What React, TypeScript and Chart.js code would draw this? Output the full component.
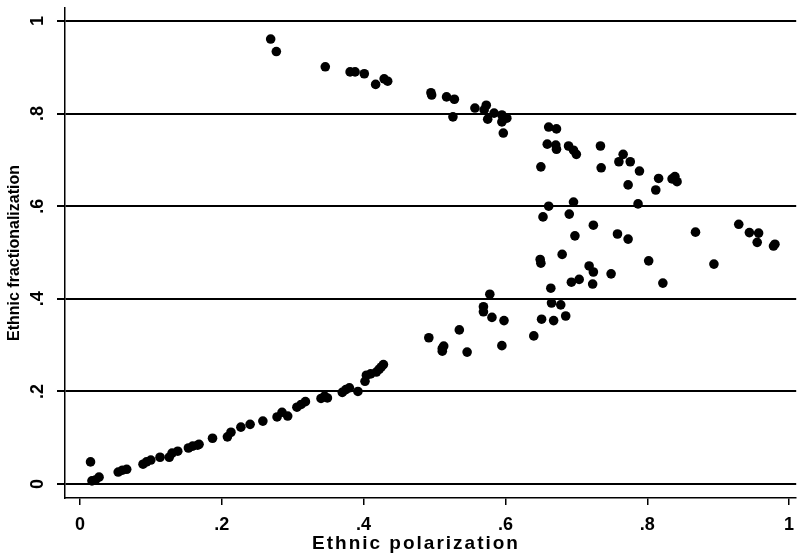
import React, { useEffect, useRef } from "react";
import { Chart, registerables } from "chart.js";

Chart.register(...registerables);

const xTickValues = [0, 0.2, 0.4, 0.6, 0.8, 1];
const xTickLabels = ["0", ".2", ".4", ".6", ".8", "1"];
const yTickValues = [0, 0.2, 0.4, 0.6, 0.8, 1];
const yTickLabels = ["0", ".2", ".4", ".6", ".8", "1"];
const xAxisTitle = "Ethnic polarization";
const yAxisTitle = "Ethnic fractionalization";

// [polarization, fractionalization]
const curvePoints: [number, number][] = [
  [0.015, 0.048], [0.017, 0.007], [0.022, 0.009], [0.027, 0.015], [0.054, 0.026],
  [0.06, 0.03], [0.066, 0.032], [0.089, 0.043], [0.094, 0.048], [0.1, 0.052],
  [0.113, 0.058], [0.126, 0.058], [0.13, 0.067], [0.138, 0.071], [0.153, 0.078],
  [0.159, 0.082], [0.166, 0.084], [0.168, 0.086], [0.187, 0.099], [0.208, 0.102],
  [0.213, 0.112], [0.227, 0.123], [0.24, 0.129], [0.258, 0.136], [0.278, 0.145],
  [0.285, 0.155], [0.293, 0.147], [0.306, 0.166], [0.312, 0.172], [0.318, 0.178],
  [0.34, 0.185], [0.345, 0.19], [0.349, 0.186], [0.37, 0.198], [0.375, 0.204],
  [0.38, 0.208], [0.392, 0.2], [0.402, 0.222], [0.41, 0.238], [0.404, 0.235],
  [0.418, 0.242], [0.422, 0.248], [0.425, 0.253], [0.428, 0.258],
];

const lowerBranchPoints: [number, number][] = [
  [0.492, 0.316], [0.511, 0.293], [0.513, 0.298], [0.511, 0.287], [0.535, 0.333],
  [0.546, 0.285], [0.569, 0.383], [0.569, 0.372], [0.578, 0.41], [0.581, 0.36],
  [0.598, 0.353], [0.595, 0.299], [0.64, 0.32], [0.651, 0.356], [0.668, 0.353],
  [0.685, 0.363], [0.665, 0.391], [0.678, 0.387], [0.664, 0.423], [0.65, 0.477],
  [0.649, 0.485], [0.68, 0.496], [0.693, 0.436], [0.704, 0.442], [0.718, 0.471],
  [0.724, 0.458], [0.723, 0.432], [0.749, 0.454], [0.802, 0.482], [0.822, 0.434],
  [0.894, 0.475], [0.868, 0.544], [0.929, 0.561], [0.944, 0.543], [0.957, 0.542],
  [0.955, 0.522], [0.98, 0.518], [0.978, 0.514], [0.653, 0.577], [0.69, 0.583],
  [0.661, 0.6], [0.696, 0.609], [0.787, 0.605], [0.724, 0.559], [0.698, 0.536],
  [0.758, 0.54], [0.773, 0.529],
];

const upperBranchPoints: [number, number][] = [
  [0.269, 0.961], [0.277, 0.934], [0.346, 0.901], [0.381, 0.89], [0.388, 0.89],
  [0.401, 0.886], [0.417, 0.863], [0.429, 0.875], [0.434, 0.87], [0.495, 0.845],
  [0.496, 0.84], [0.517, 0.836], [0.528, 0.831], [0.526, 0.793], [0.557, 0.812],
  [0.573, 0.818], [0.57, 0.808], [0.584, 0.801], [0.575, 0.788], [0.595, 0.797],
  [0.602, 0.79], [0.595, 0.782], [0.597, 0.758], [0.661, 0.771], [0.672, 0.767],
  [0.659, 0.734], [0.671, 0.732], [0.672, 0.723], [0.689, 0.73], [0.696, 0.721],
  [0.7, 0.712], [0.65, 0.685], [0.734, 0.73], [0.735, 0.683], [0.766, 0.712],
  [0.76, 0.696], [0.776, 0.696], [0.789, 0.676], [0.773, 0.646], [0.816, 0.66],
  [0.812, 0.635], [0.839, 0.664], [0.842, 0.653], [0.835, 0.659],
];

const FONT = '"Liberation Sans", Arial, Helvetica, sans-serif';

const labelFor = (values: number[], labels: string[]) => (v: any) => {
  const i = values.findIndex((t) => Math.abs(t - Number(v)) < 1e-9);
  return i >= 0 ? labels[i] : "";
};

const xTitlePlugin = {
  id: "xTitlePlugin",
  afterDraw(chart: any) {
    const { ctx, chartArea } = chart;
    ctx.save();
    ctx.font = `bold 19px ${FONT}`;
    try {
      (ctx as any).letterSpacing = "2px";
    } catch (e) {}
    ctx.fillStyle = "#000";
    ctx.textAlign = "center";
    ctx.textBaseline = "alphabetic";
    ctx.fillText(xAxisTitle, chartArea.left + 351, chart.height - 8);
    ctx.restore();
  },
};

export default function App() {
  const canvasRef = useRef<HTMLCanvasElement | null>(null);

  useEffect(() => {
    document.body.style.margin = "0";
    const canvas = canvasRef.current;
    if (!canvas) return;
    const allPoints = [...curvePoints, ...lowerBranchPoints, ...upperBranchPoints].map(
      ([x, y]) => ({ x, y })
    );
    const chart = new Chart(canvas, {
      type: "scatter",
      data: {
        datasets: [
          {
            data: allPoints,
            backgroundColor: "#000",
            borderWidth: 0,
            pointRadius: 4.8,
            pointHoverRadius: 4.8,
          },
        ],
      },
      options: {
        animation: false,
        responsive: false,
        devicePixelRatio: 1,
        events: [],
        layout: { padding: { top: 8, left: 0, right: 0, bottom: 0 } },
        plugins: { legend: { display: false }, tooltip: { enabled: false } },
        scales: {
          x: {
            type: "linear",
            min: -0.021,
            max: 1.01,
            afterBuildTicks: (s: any) => {
              s.ticks = xTickValues.map((v) => ({ value: v }));
            },
            afterFit: (s: any) => {
              s.height = 59;
              s.paddingLeft = 0;
              s.paddingRight = 0;
            },
            ticks: {
              autoSkip: false,
              maxRotation: 0,
              minRotation: 0,
              padding: 9,
              color: "#000",
              font: { family: FONT, size: 18, weight: "bold" },
              callback: labelFor(xTickValues, xTickLabels),
            },
            grid: {
              drawOnChartArea: false,
              drawTicks: true,
              tickLength: 7,
              color: "#000",
              lineWidth: 1.5,
            },
            border: { color: "#000", width: 1.5 },
          },
          y: {
            type: "linear",
            min: -0.03,
            max: 1.028,
            afterBuildTicks: (s: any) => {
              s.ticks = yTickValues.map((v) => ({ value: v }));
            },
            afterFit: (s: any) => {
              s.width = 65;
              s.paddingTop = 0;
              s.paddingBottom = 0;
            },
            ticks: {
              autoSkip: false,
              minRotation: 90,
              maxRotation: 90,
              crossAlign: "center",
              padding: 11.5,
              color: "#000",
              font: { family: FONT, size: 18, weight: "bold" },
              callback: labelFor(yTickValues, yTickLabels),
            },
            grid: {
              drawTicks: true,
              tickLength: 8,
              color: "#000",
              lineWidth: 2,
            },
            border: { color: "#000", width: 1.5 },
            title: {
              display: true,
              text: yAxisTitle,
              color: "#000",
              font: { family: FONT, size: 16, weight: "bold" },
              padding: { top: 5, bottom: 0 },
            },
          },
        },
      },
      plugins: [xTitlePlugin],
    });
    return () => chart.destroy();
  }, []);

  return (
    <div style={{ position: "absolute", left: 0, top: 0, width: 801, height: 557, background: "#fff" }}>
      <canvas ref={canvasRef} width={801} height={557} />
    </div>
  );
}
